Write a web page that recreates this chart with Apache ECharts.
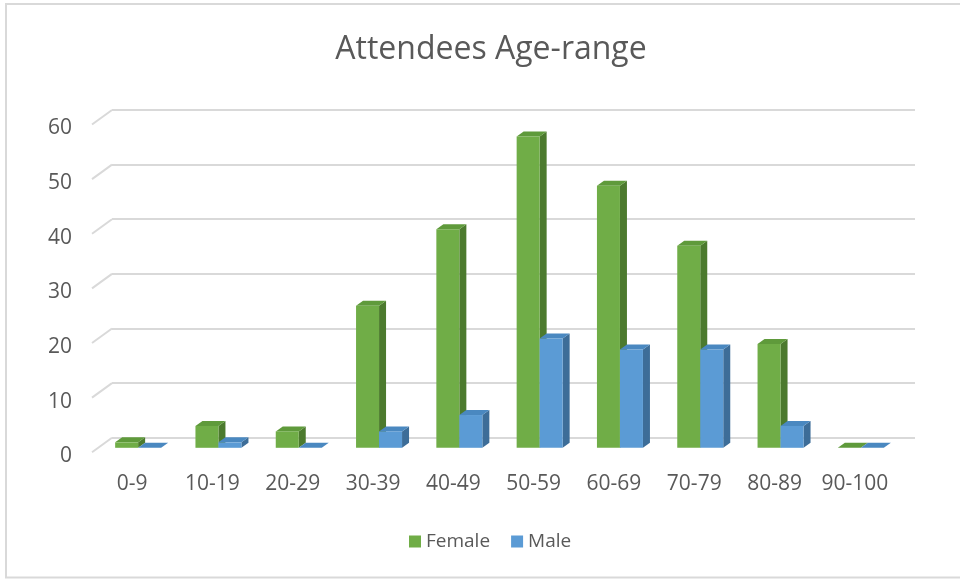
<!DOCTYPE html>
<html>
<head>
<meta charset="utf-8">
<title>Attendees Age-range</title>
<script src="https://cdn.jsdelivr.net/npm/echarts@6/dist/echarts.min.js"></script>
<style>
  html, body { margin: 0; padding: 0; background: #ffffff; }
  #chart { width: 960px; height: 579px; }
</style>
</head>
<body>
<div id="chart"></div>
<script>
// Age bands and attendee counts
const categories = ['0-9', '10-19', '20-29', '30-39', '40-49', '50-59', '60-69', '70-79', '80-89', '90-100'];
const femaleCounts = [1, 4, 3, 26, 40, 57, 48, 37, 19, 0];
const maleCounts = [0, 1, 0, 3, 6, 20, 18, 18, 4, 0];
const yTicks = [0, 10, 20, 30, 40, 50, 60];

const FONT = '"Open Sans", "Noto Sans", sans-serif';
const TEXT = '#595959';
const GRID_LINE = '#d9d9d9';

// depth projection of the wall and of the column boxes
const WALL_DX = 20, WALL_DY = 14.5;
const BOX_DX = 7, BOX_DY = 5;
const BAR_LIFT = 4.4;     // columns stand slightly behind the front edge
const BAR_W = 23;

// shaded faces of each column: front, side, top
const palettes = {
  female: { front: '#70ad47', side: '#4c7a2e', top: '#5f9a3b' },
  male:   { front: '#5b9bd5', side: '#3d6d98', top: '#4a88c0' }
};

function columnRenderer(offset, pal) {
  return function (params, api) {
    const idx = api.value(0);
    const v = api.value(1);
    const base = api.coord([idx, 0]);
    const h = api.size([0, v])[1];
    const x0 = base[0] + offset;
    const x1 = x0 + BAR_W;
    const yb = base[1] - BAR_LIFT;
    const yt = yb - h;
    return {
      type: 'group',
      children: [
        { type: 'polygon', shape: { points: [[x1, yb], [x1 + BOX_DX, yb - BOX_DY], [x1 + BOX_DX, yt - BOX_DY], [x1, yt]] },
          style: { fill: pal.side } },
        { type: 'polygon', shape: { points: [[x0, yt], [x0 + BOX_DX, yt - BOX_DY], [x1 + BOX_DX, yt - BOX_DY], [x1, yt]] },
          style: { fill: pal.top } },
        { type: 'rect', shape: { x: x0, y: yt, width: BAR_W, height: h },
          style: { fill: pal.front } }
      ]
    };
  };
}

// slanted floor/wall joints of each gridline
function wallJoint(params, api) {
  const y = api.coord([0, api.value(0)])[1];
  const x = params.coordSys.x;
  return {
    type: 'line',
    shape: { x1: x, y1: y, x2: x - WALL_DX, y2: y + WALL_DY },
    style: { stroke: GRID_LINE, lineWidth: 2 }
  };
}

const chart = echarts.init(document.getElementById('chart'), null, { renderer: 'canvas' });

chart.setOption({
  backgroundColor: '#ffffff',
  animation: false,
  textStyle: { fontFamily: FONT },
  title: {
    text: 'Attendees Age-range',
    left: 486,
    textAlign: 'center',
    top: 29,
    textStyle: { fontFamily: FONT, fontSize: 32, fontWeight: 'normal', color: TEXT }
  },
  graphic: [{
    type: 'rect',
    shape: { x: 6, y: 4, width: 990, height: 573.5 },
    style: { fill: null, stroke: GRID_LINE, lineWidth: 2 },
    silent: true
  }],
  legend: {
    data: ['Female', 'Male'],
    left: 404,
    top: 527,
    icon: 'rect',
    itemWidth: 12,
    itemHeight: 12,
    itemGap: 21,
    textStyle: { fontFamily: FONT, fontSize: 19, color: TEXT }
  },
  grid: [
    // back wall
    { left: 112, top: 110, width: 803, height: 327.7 },
    // front edge
    { left: 92, top: 110 + WALL_DY, width: 803, height: 327.7 }
  ],
  xAxis: [
    { gridIndex: 0, type: 'category', data: categories, show: false },
    { gridIndex: 1, type: 'category', data: categories,
      axisLine: { show: false }, axisTick: { show: false },
      axisLabel: { margin: 21, fontFamily: FONT, fontSize: 21, color: TEXT, interval: 0 } }
  ],
  yAxis: [
    { gridIndex: 0, type: 'value', min: 0, max: 60, interval: 10,
      axisLabel: { show: false }, axisLine: { show: false }, axisTick: { show: false },
      splitLine: { show: true, lineStyle: { color: GRID_LINE, width: 2 } } },
    { gridIndex: 1, type: 'value', min: 0, max: 60, interval: 10,
      axisLine: { show: false }, axisTick: { show: false }, splitLine: { show: false },
      axisLabel: {
        margin: 20, color: TEXT,
        formatter: '{v|{value}}',
        rich: { v: { fontFamily: FONT, fontSize: 21, color: TEXT, padding: [8, 0, 0, 0] } }
      } }
  ],
  series: [
    {
      name: 'joints', type: 'custom', xAxisIndex: 0, yAxisIndex: 0,
      renderItem: wallJoint,
      data: yTicks.map(v => [v]),
      encode: { y: 0 },
      silent: true, z: 1
    },
    {
      name: 'Female', type: 'custom', xAxisIndex: 1, yAxisIndex: 1,
      itemStyle: { color: palettes.female.front },
      renderItem: columnRenderer(-17, palettes.female),
      data: femaleCounts.map((v, i) => [i, v]),
      encode: { x: 0, y: 1 },
      z: 3
    },
    {
      name: 'Male', type: 'custom', xAxisIndex: 1, yAxisIndex: 1,
      itemStyle: { color: palettes.male.front },
      renderItem: columnRenderer(6, palettes.male),
      data: maleCounts.map((v, i) => [i, v]),
      encode: { x: 0, y: 1 },
      z: 4
    }
  ]
});
</script>
</body>
</html>
